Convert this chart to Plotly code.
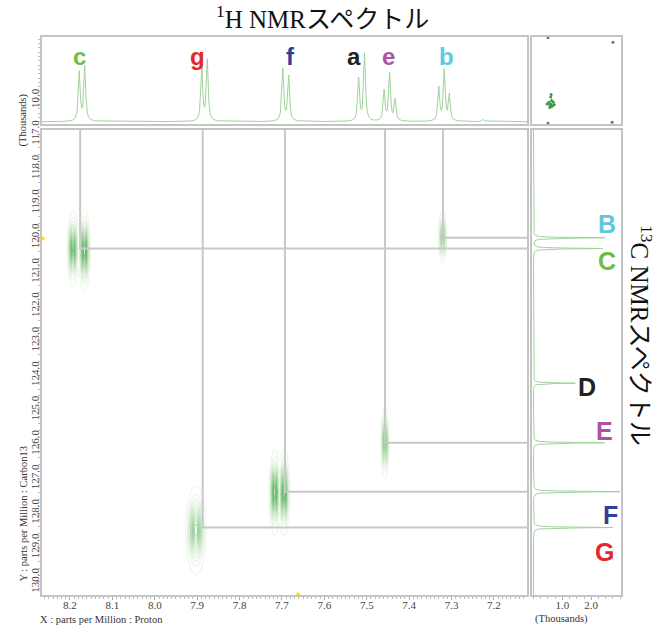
import numpy as np
import plotly.graph_objects as go

W, H = 660, 627

# ---------------- data ----------------
# 1H spectrum lines (ppm, height in thousands)
h_ppm = [8.178, 8.165, 7.889, 7.876, 7.698, 7.684, 7.519, 7.505,
         7.459, 7.446, 7.433, 7.330, 7.317, 7.305, 7.225]
h_int = [22.6, 25.3, 24.1, 28.1, 24.1, 20.7, 19.5, 31.2,
         14.0, 21.8, 10.0, 15.5, 23.6, 12.1, 1.1]

# 13C spectrum lines (ppm, intensity in thousands)
c_ppm = [120.01, 120.32, 124.23, 125.96, 127.38, 128.42]
c_int = [2.48, 2.41, 1.45, 2.48, 2.99, 2.76]

# HSQC cross peaks: proton ppm, carbon ppm, proton sigma, carbon sigma, amplitude
xp_h = [8.193, 8.166, 7.321, 7.457, 7.717, 7.695, 7.903]
xp_c = [120.33, 120.38, 120.00, 125.95, 127.40, 127.42, 128.50]
xp_sh = [0.0052, 0.0052, 0.0038, 0.0038, 0.0050, 0.0050, 0.0095]
xp_sc = [0.42, 0.45, 0.31, 0.41, 0.47, 0.47, 0.50]
xp_a = [0.9, 1.0, 0.6, 0.7, 1.0, 1.0, 0.8]

# correlation guide lines (proton ppm, carbon ppm)
link_h = [8.176, 7.320, 7.457, 7.693, 7.887]
link_c = [120.32, 120.01, 125.96, 127.38, 128.42]

# labels
h_labels = ["c", "g", "f", "a", "e", "b"]
h_label_ppm = [8.178, 7.900, 7.680, 7.530, 7.448, 7.313]
h_label_col = ["#6cbd45", "#e8262a", "#2f3f99", "#222222", "#b04fa6", "#5ec8dc"]

c_labels = ["B", "C", "D", "E", "F", "G"]
c_label_ppm = [119.62, 120.67, 124.34, 125.62, 128.05, 129.14]
c_label_x = [2.55, 2.55, 1.85, 2.45, 2.65, 2.45]
c_label_col = ["#5ec8dc", "#6cbd45", "#222222", "#b04fa6", "#2f3f99", "#e8262a"]

x_ticks = [8.2, 8.1, 8.0, 7.9, 7.8, 7.7, 7.6, 7.5, 7.4, 7.3, 7.2]
y_ticks = [117.0, 118.0, 119.0, 120.0, 121.0, 122.0, 123.0, 124.0, 125.0,
           126.0, 127.0, 128.0, 129.0, 130.0]

# noise dots in corner box
noise_x = [0.21, 0.19, 0.23, 0.22, 0.20, 0.24, 0.17, 0.21, 0.25, 0.20, 0.22, 0.215,
           0.18, 0.91, 0.18, 0.90]
noise_y = [0.23, 0.25, 0.21, 0.27, 0.19, 0.25, 0.23, 0.31, 0.22, 0.22, 0.20, 0.34,
           0.99, 0.94, 0.01, 0.02]

# ---------------- ranges / helpers ----------------
XR = [8.266, 7.122]
YR = [130.38, 116.88]
def px(x): return x / W
def py(y): return 1 - y / H

fig = go.Figure()

# 1H spectrum (top)
xs = np.arange(XR[1], XR[0], 0.0004)
hw = 0.0025
spec_h = np.zeros_like(xs)
for p, a in zip(h_ppm, h_int):
    spec_h += a * hw**2 / ((xs - p)**2 + hw**2)
fig.add_trace(go.Scatter(x=xs, y=spec_h, mode="lines", xaxis="x2", yaxis="y2",
                         line=dict(color="#9fd39a", width=1), hoverinfo="skip"))

# 13C spectrum (right)
ys = np.arange(YR[1], YR[0], 0.003)
cw = 0.012
spec_c = np.zeros_like(ys)
for p, a in zip(c_ppm, c_int):
    spec_c += a * cw**2 / ((ys - p)**2 + cw**2)
fig.add_trace(go.Scatter(x=spec_c, y=ys, mode="lines", xaxis="x3", yaxis="y3",
                         line=dict(color="#9fd39a", width=1), hoverinfo="skip"))

# guide lines
for h, c in zip(link_h, link_c):
    fig.add_trace(go.Scatter(x=[h, h, XR[1]], y=[YR[1], c, c], mode="lines",
                             line=dict(color="#c8c8c8", width=2), hoverinfo="skip"))

# contour of cross peaks
gx = np.arange(XR[1], XR[0], 0.0015)
gy = np.arange(YR[1], YR[0], 0.03)
GX, GY = np.meshgrid(gx, gy)
Z = np.zeros_like(GX)
for h, c, sh, sc, a in zip(xp_h, xp_c, xp_sh, xp_sc, xp_a):
    Z += a * np.exp(-((GX - h)**2 / (2 * sh**2) + (GY - c)**2 / (2 * sc**2)))
fig.add_trace(go.Contour(x=gx, y=gy, z=Z, showscale=False,
                         contours=dict(start=0.03, end=0.98, size=0.06, coloring="lines"),
                         line=dict(width=0.6),
                         colorscale=[[0, "#d6edd1"], [0.5, "#94cf8f"], [1, "#52a85a"]],
                         hoverinfo="skip"))

# cursor markers
fig.add_trace(go.Scatter(x=[XR[0]], y=[120.03], mode="markers", cliponaxis=False,
                         marker=dict(symbol="triangle-right", size=7, color="#efe23a"),
                         hoverinfo="skip"))
fig.add_trace(go.Scatter(x=[7.662], y=[YR[0]], mode="markers", cliponaxis=False,
                         marker=dict(symbol="triangle-up", size=7, color="#efe23a"),
                         hoverinfo="skip"))

# corner noise
fig.add_trace(go.Scatter(x=noise_x, y=noise_y, mode="markers", xaxis="x4", yaxis="y4",
                         marker=dict(size=3, color="#3a9a45"), hoverinfo="skip"))

tickfont = dict(family="Liberation Serif", size=11, color="#444")
border = dict(showline=True, mirror=True, linecolor="#c4c4c4", linewidth=1.5,
              showgrid=False, zeroline=False, automargin=False)

fig.update_layout(
    width=W, height=H, margin=dict(l=0, r=0, t=0, b=0, autoexpand=False),
    paper_bgcolor="white", plot_bgcolor="white", showlegend=False,
    xaxis=dict(domain=[px(42), px(527)], anchor="y", range=XR, tickvals=x_ticks,
               ticktext=[f"{v:.1f}" for v in x_ticks], ticks="outside", ticklen=3,
               tickcolor="#aaa", tickfont=tickfont, ticklabelstandoff=-4,
               minor=dict(dtick=0.01, ticks="outside", ticklen=2, tickcolor="#bbb"),
               **border),
    yaxis=dict(domain=[py(595), py(130)], anchor="x", range=YR, tickvals=y_ticks,
               ticktext=[f"{v:.1f}" for v in y_ticks], tickangle=-90, ticks="outside",
               ticklen=3, tickcolor="#aaa", tickfont=tickfont, ticklabelstandoff=-6,
               minor=dict(dtick=0.2, ticks="outside", ticklen=2, tickcolor="#bbb"),
               **border),
    xaxis2=dict(domain=[px(42), px(527)], anchor="y2", range=XR, showticklabels=False,
                **border),
    yaxis2=dict(domain=[py(124), py(37)], anchor="x2", range=[-1.06, 39.0],
                tickvals=[10], ticktext=["10.0"], tickangle=-90,
                ticks="outside", ticklen=3, tickcolor="#aaa", tickfont=tickfont,
                ticklabelstandoff=-6,
                minor=dict(dtick=2, ticks="outside", ticklen=2, tickcolor="#bbb"),
                **border),
    xaxis3=dict(domain=[px(532), px(621)], anchor="y3", range=[-0.05, 3.03],
                tickvals=[1.0, 2.0], ticktext=["1.0", "2.0"], ticks="outside", ticklen=3,
                tickcolor="#aaa", tickfont=tickfont, ticklabelstandoff=-4,
                minor=dict(dtick=0.25, ticks="outside", ticklen=2, tickcolor="#bbb"),
                **border),
    yaxis3=dict(domain=[py(595), py(130)], anchor="x3", range=YR, showticklabels=False,
                **border),
    xaxis4=dict(domain=[px(532), px(621)], anchor="y4", range=[0, 1],
                showticklabels=False, **border),
    yaxis4=dict(domain=[py(124), py(37)], anchor="x4", range=[0, 1],
                showticklabels=False, **border),
)

ann = []
for t, p, col in zip(h_labels, h_label_ppm, h_label_col):
    ann.append(dict(x=p, y=30, xref="x2", yref="y2", text=f"<b>{t}</b>", showarrow=False,
                    font=dict(family="Liberation Sans", size=24, color=col)))
for t, p, xv, col in zip(c_labels, c_label_ppm, c_label_x, c_label_col):
    ann.append(dict(x=xv, y=p, xref="x3", yref="y3", text=f"<b>{t}</b>", showarrow=False,
                    font=dict(family="Liberation Sans", size=25, color=col)))
title_font = dict(family="Liberation Serif, Noto Sans CJK JP", size=25, color="#111")
ann.append(dict(x=px(322), y=py(-1), xref="paper", yref="paper",
                text="<sup>1</sup>H NMRスペクトル", showarrow=False, font=title_font))
ann.append(dict(x=px(659), y=py(335), xref="paper", yref="paper", textangle=90,
                text="<sup>13</sup>C NMRスペクトル", showarrow=False, font=title_font))
small = dict(family="Liberation Serif", size=10.5, color="#333")
ann.append(dict(x=px(38), y=py(627), xref="paper", yref="paper", xanchor="left",
                yanchor="bottom", text="X : parts per Million : Proton", showarrow=False,
                font=small))
ann.append(dict(x=px(15), y=py(584), xref="paper", yref="paper", yanchor="bottom",
                textangle=-90, text="Y : parts per Million : Carbon13", showarrow=False,
                font=small))
ann.append(dict(x=px(15), y=py(92), xref="paper", yref="paper", textangle=-90,
                text="(Thousands)", showarrow=False, font=small))
ann.append(dict(x=px(533), y=py(627), xref="paper", yref="paper", xanchor="left",
                yanchor="bottom", text="(Thousands)", showarrow=False, font=small))
fig.update_layout(annotations=ann)

fig.write_html("out.html", config={"displayModeBar": False},
               post_script="document.body.style.margin='0px';document.body.style.overflow='hidden';")
